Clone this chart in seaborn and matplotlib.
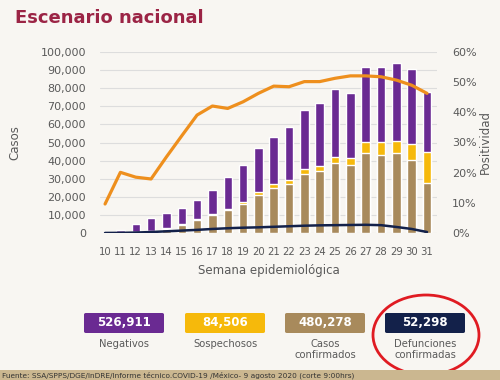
import numpy as np
import pandas as pd
import matplotlib
matplotlib.use("Agg")
import matplotlib.pyplot as plt
import matplotlib.ticker as ticker
from matplotlib.patches import FancyBboxPatch, Ellipse, Rectangle
import seaborn as sns

sns.set_theme(style="white")
plt.rcParams['font.family'] = ['DejaVu Sans']

# data (cases in units, positivity in %)
semanas = list(range(10, 32))
total = [200, 1700, 4800, 8100, 10900, 13600, 18200, 23800, 31100, 37600, 46800,
         53200, 58400, 68000, 71600, 79600, 77200, 91500, 91500, 93700, 90400, 78100]
confirmados = [100, 300, 500, 1000, 2400, 4300, 7000, 9800, 12500, 16200, 21000,
               24700, 27100, 32400, 34300, 38800, 37600, 44000, 43100, 44000, 40300, 27500]
sospechosos = [50, 100, 200, 300, 400, 500, 600, 700, 800, 1000, 1500,
               2200, 2200, 2800, 2700, 3400, 3700, 6100, 7000, 7000, 8900, 17400]
defunciones = [0, 50, 200, 500, 900, 1300, 1700, 2200, 2600, 2900, 3100,
               3400, 3700, 4000, 4200, 4300, 4400, 4500, 4300, 3300, 2200, 500]
positividad = [9.6, 20.1, 18.5, 17.9, 25.2, 32.2, 39.1, 42.1, 41.3, 43.5, 46.3,
               48.7, 48.5, 50.2, 50.2, 51.3, 52.1, 52.1, 51.8, 50.7, 49.0, 46.3]

resumen_valores = ["526,911", "84,506", "480,278", "52,298"]
resumen_etiquetas = ["Negativos", "Sospechosos", "Casos\nconfirmados", "Defunciones\nconfirmadas"]

c_neg = "#6a2a92"
c_sos = "#f6b90b"
c_conf = "#a88a5c"
c_def = "#13214a"
c_pos = "#ee8f1d"
gris = "#5a5a5a"

df = pd.DataFrame({"semana": semanas, "total": total, "confirmados": confirmados,
                   "sospechosos": sospechosos, "defunciones": defunciones,
                   "positividad": positividad})
df["conf_sos"] = df["confirmados"] + df["sospechosos"]

fig = plt.figure(figsize=(5, 3.8), dpi=100)
fig.patch.set_facecolor("#f8f6f2")
ax = fig.add_axes([0.2, 0.387, 0.674, 0.476])
ax.set_facecolor("none")

# stacked bars: draw cumulative heights back to front
sns.barplot(data=df, x="semana", y="total", color=c_neg, saturation=1,
            width=0.55, native_scale=True, ax=ax, zorder=2)
sns.barplot(data=df, x="semana", y="conf_sos", color=c_sos, saturation=1,
            width=0.55, native_scale=True, ax=ax, zorder=2)
sns.barplot(data=df, x="semana", y="confirmados", color=c_conf, saturation=1,
            width=0.55, native_scale=True, ax=ax, zorder=2)
sns.lineplot(data=df, x="semana", y="defunciones", color=c_def, lw=1.8, ax=ax, zorder=3)

ax.set_xlim(9.67, 31.65)
ax.set_ylim(0, 100000)
ax.set_yticks(np.arange(0, 100001, 10000))
ax.yaxis.set_major_formatter(ticker.FuncFormatter(lambda v, p: f"{int(v):,}"))
ax.set_xticks(semanas)
ax.set_xticklabels([str(s) for s in semanas])
ax.grid(axis="y", color="#dddddd", lw=0.8, zorder=0)
ax.set_axisbelow(True)
for s in ax.spines.values():
    s.set_visible(False)
ax.tick_params(axis="y", length=0, pad=10, labelsize=8, labelcolor=gris)
ax.tick_params(axis="x", length=0, pad=10, labelsize=7.3, labelcolor=gris)
ax.set_ylabel("Casos", fontsize=8.5, color=gris, labelpad=14)

ax2 = ax.twinx()
sns.lineplot(data=df, x="semana", y="positividad", color=c_pos, lw=2.3, ax=ax2, zorder=4)
ax2.set_ylim(0, 60)
ax2.set_yticks(np.arange(0, 61, 10))
ax2.yaxis.set_major_formatter(ticker.FuncFormatter(lambda v, p: f"{int(v)}%"))
for s in ax2.spines.values():
    s.set_visible(False)
ax2.tick_params(axis="y", length=0, pad=11, labelsize=8, labelcolor=gris)
ax2.set_ylabel("Positividad", fontsize=8.5, color=gris, labelpad=1)
ax2.set_xlabel("")
ax.set_xlabel("Semana epidemiológica", fontsize=8.5, color=gris, labelpad=5)

fig.text(0.03, 0.952, "Escenario nacional", fontsize=13, fontweight="bold",
         color="#9b2445", va="center", ha="left")

# summary boxes
colores = [c_neg, c_sos, c_conf, c_def]
x_centros = [124, 225, 325, 425]
for xc, val, lab, col in zip(x_centros, resumen_valores, resumen_etiquetas, colores):
    caja = FancyBboxPatch(((xc - 40) / 500, (380 - 333) / 380), 80 / 500, 20 / 380,
                          boxstyle="round,pad=0,rounding_size=0.004",
                          transform=fig.transFigure, facecolor=col, edgecolor="none")
    fig.patches.append(caja)
    fig.text(xc / 500, (380 - 323) / 380, val, color="white", fontsize=8.5,
             fontweight="bold", ha="center", va="center")
    fig.text(xc / 500, (380 - 339) / 380, lab, color=gris, fontsize=7.2,
             ha="center", va="top", linespacing=1.1)

fig.patches.append(Ellipse((426 / 500, (380 - 335) / 380), 106 / 500, 80 / 380,
                           transform=fig.transFigure, fill=False,
                           edgecolor="#e01b22", lw=2))

fig.patches.append(Rectangle((0, 0), 1, 10 / 380, transform=fig.transFigure,
                             facecolor="#cbb790", edgecolor="none"))
fig.text(0.004, 5 / 380,
         "Fuente: SSA/SPPS/DGE/InDRE/Informe técnico.COVID-19 /México- 9 agosto 2020 (corte 9:00hrs)",
         fontsize=5.3, color="#333333", ha="left", va="center")

fig.savefig("out.png", dpi=100, facecolor=fig.get_facecolor())
